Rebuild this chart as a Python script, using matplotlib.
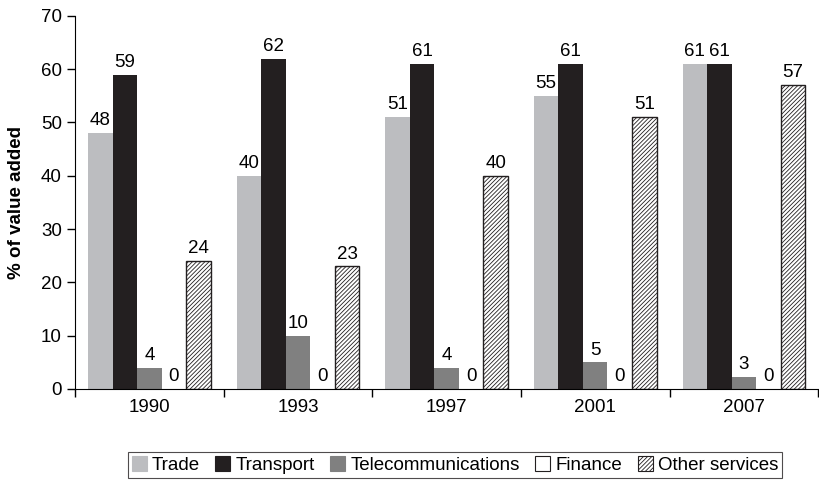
import numpy as np
import matplotlib.pyplot as plt
from matplotlib.patches import Patch

plt.rcParams['font.family'] = ['Liberation Sans Narrow', 'Liberation Sans', 'DejaVu Sans']
plt.rcParams['hatch.linewidth'] = 0.6

# data
years = ["1990", "1993", "1997", "2001", "2007"]
sectors = ["Trade", "Transport", "Telecommunications", "Finance", "Other services"]
trade = [48, 40, 51, 55, 61]
transport = [59, 62, 61, 61, 61]
telecom = [4, 10, 4, 5, 2.3]
finance = [0, 0, 0, 0, 0]
other = [24, 23, 40, 51, 57]
telecom_labels = ["4", "10", "4", "5", "3"]

series = [trade, transport, telecom, finance, other]
labels = [[str(v) for v in trade], [str(v) for v in transport], telecom_labels,
          [str(v) for v in finance], [str(v) for v in other]]
colors = ["#bcbdc0", "#231f20", "#808080", "white", "white"]
hatches = [None, None, None, None, "////////"]

fs = 13.5

fig = plt.figure(figsize=(8.19, 4.82), dpi=100)
ax = fig.add_axes([0.0916, 0.193, 0.9074, 0.774])

x = np.arange(len(years)) + 0.5
w = 0.165
for i, (vals, lab) in enumerate(zip(series, labels)):
    pos = x + (i - 2) * w
    if hatches[i]:
        bars = ax.bar(pos, vals, w, color=colors[i], edgecolor="#231f20",
                      hatch=hatches[i], linewidth=1.0)
    else:
        bars = ax.bar(pos, vals, w, color=colors[i], linewidth=0)
    for b, t in zip(bars, lab):
        ax.text(b.get_x() + b.get_width() / 2, b.get_height() + 0.7, t,
                ha="center", va="bottom", fontsize=fs)

ax.set_xlim(0, 5)
ax.set_ylim(0, 70)
ax.set_yticks(range(0, 71, 10))
ax.set_xticks(range(0, 6))
ax.set_xticklabels([])
ax.set_xticks(x, minor=True)
ax.set_xticklabels(years, minor=True)
ax.tick_params(axis="x", which="minor", length=0, pad=7, labelsize=fs)
ax.tick_params(axis="x", which="major", length=6, direction="out", width=1)
ax.tick_params(axis="y", length=6, direction="out", labelsize=fs, width=1)
ax.spines["top"].set_visible(False)
ax.spines["right"].set_visible(False)
ax.set_ylabel("% of value added", fontweight="bold", fontsize=13.5,
              family=["Liberation Sans", "DejaVu Sans"])
ax.yaxis.set_label_coords(-0.067, 0.5)

handles = [Patch(facecolor=c, edgecolor=("#231f20" if i >= 3 else c), hatch=h, linewidth=0.8)
           for i, (c, h) in enumerate(zip(colors, hatches))]
leg = fig.legend(handles, sectors, loc="center", bbox_to_anchor=(455 / 819, 1 - 465 / 482),
                 ncol=5, frameon=True, fancybox=False, edgecolor="#231f20",
                 fontsize=fs, handlelength=0.8, handleheight=0.8, handletextpad=0.3,
                 columnspacing=0.8, borderpad=0.2)
leg.get_frame().set_linewidth(0.8)

fig.savefig("out.png", dpi=100)
